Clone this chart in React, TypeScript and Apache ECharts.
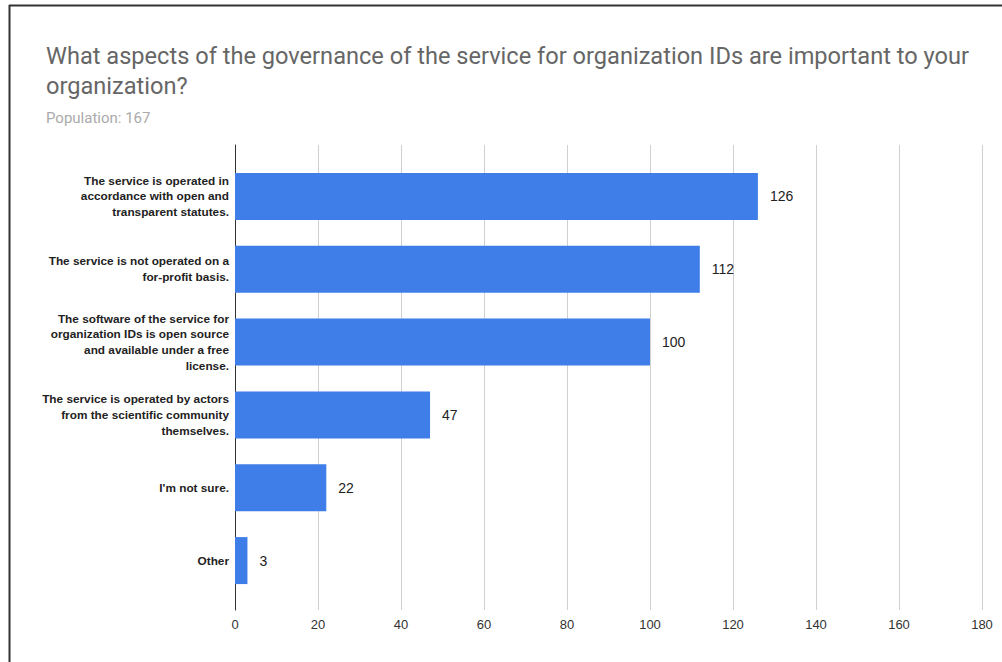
import React, { useEffect, useRef } from "react";
import * as echarts from "echarts";

const categories = [
  "The service is operated in\naccordance with open and\ntransparent statutes.",
  "The service is not operated on a\nfor-profit basis.",
  "The software of the service for\norganization IDs is open source\nand available under a free\nlicense.",
  "The service is operated by actors\nfrom the scientific community\nthemselves.",
  "I'm not sure.",
  "Other",
];
const values = [126, 112, 100, 47, 22, 3];
const axisMin = 0;
const axisMax = 180;
const axisStep = 20;
const titleText =
  "What aspects of the governance of the service for organization IDs are important to your\norganization?";
const subtitleText = "Population: 167";

export default function App() {
  const ref = useRef<HTMLDivElement>(null);
  useEffect(() => {
    document.body.style.margin = "0";
    const chart = echarts.init(ref.current!, undefined, { renderer: "svg" });
    chart.setOption({
      animation: false,
      backgroundColor: "#ffffff",
      title: {
        text: titleText,
        subtext: subtitleText,
        left: 41,
        top: 36,
        itemGap: 9,
        textStyle: {
          fontFamily: "Roboto, Arial, sans-serif",
          fontSize: 23.6,
          fontWeight: "normal",
          color: "#666666",
          lineHeight: 30,
        },
        subtextStyle: {
          fontFamily: "Roboto, Arial, sans-serif",
          fontSize: 15,
          color: "#aaaaaa",
        },
      },
      graphic: [
        {
          type: "line",
          shape: { x1: 9.5, y1: 5, x2: 9.5, y2: 662 },
          style: { stroke: "#333333", lineWidth: 2 },
        },
        {
          type: "line",
          shape: { x1: 9, y1: 5.5, x2: 1002, y2: 5.5 },
          style: { stroke: "#333333", lineWidth: 2 },
        },
      ],
      grid: [
        { left: 235, right: 20, top: 160, bottom: 65 },
        { left: 235, right: 20, top: 145, bottom: 52 },
      ],
      xAxis: [
        {
          gridIndex: 0,
          type: "value",
          min: axisMin,
          max: axisMax,
          interval: axisStep,
          show: false,
        },
        {
          gridIndex: 1,
          type: "value",
          min: axisMin,
          max: axisMax,
          interval: axisStep,
          axisLine: { show: false },
          axisTick: { show: false },
          splitLine: { show: true, lineStyle: { color: "#d0d0d0", width: 1 } },
          axisLabel: {
            fontFamily: "Liberation Sans, Arial, sans-serif",
            fontSize: 13,
            color: "#333333",
            margin: 8,
          },
        },
      ],
      yAxis: [
        {
          gridIndex: 0,
          type: "category",
          inverse: true,
          data: categories,
          axisLine: { show: false },
          axisTick: { show: false },
          splitLine: { show: false },
          axisLabel: {
            margin: 6,
            fontFamily: "Liberation Sans, Arial, sans-serif",
            fontWeight: "bold",
            fontSize: 11.8,
            lineHeight: 15.7,
            color: "#222222",
            align: "right",
          },
        },
        {
          gridIndex: 1,
          type: "category",
          data: [""],
          axisLine: { show: true, lineStyle: { color: "#333333", width: 1 } },
          axisTick: { show: false },
          axisLabel: { show: false },
          splitLine: { show: false },
        },
      ],
      series: [
        {
          type: "bar",
          xAxisIndex: 0,
          yAxisIndex: 0,
          data: values,
          barWidth: 47,
          itemStyle: { color: "#3f7ee8" },
          label: {
            show: true,
            position: "right",
            distance: 12,
            fontFamily: "Liberation Sans, Arial, sans-serif",
            fontSize: 14,
            color: "#222222",
          },
        },
      ],
    });
    return () => chart.dispose();
  }, []);
  return (
    <div
      ref={ref}
      style={{ position: "absolute", left: 0, top: 0, width: 1002, height: 662 }}
    />
  );
}
